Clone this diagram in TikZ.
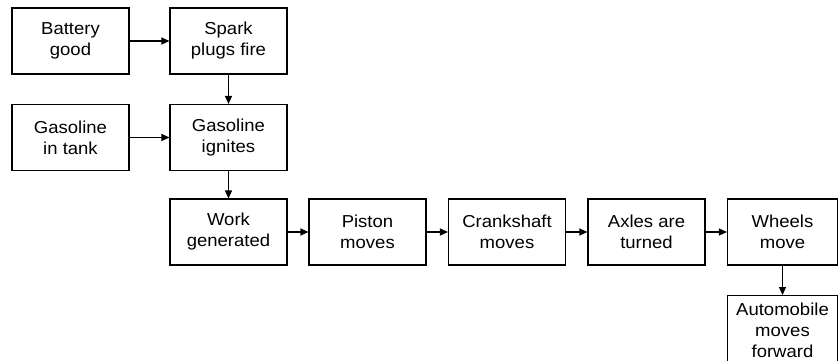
\documentclass[tikz,border=0pt]{standalone}
\usepackage{fontspec}
\setmainfont[FakeStretch=1.07]{Liberation Sans}
\usetikzlibrary{arrows.meta}
\begin{document}
\begin{tikzpicture}[x=1pt,y=-1pt,
  box/.style={draw, line width=1.1pt, minimum width=117pt, minimum height=66pt,
    inner sep=0pt, align=center, font=\fontsize{17.3}{21}\selectfont},
  conn/.style={line width=1.1pt, -{Triangle[length=8pt,width=7pt]}}]
\useasboundingbox (0,0) rectangle (838,360);
\clip (0,0) rectangle (838,360);
\node[box] (battery) at (70.5,41) {Battery\\good};
\node[box] (spark) at (228.5,41) {Spark\\plugs fire};
\node[box] (tank) at (70.5,137.5) {Gasoline\\in tank};
\node[box] (ignites) at (228.5,137.5) {Gasoline\\ignites};
\node[box] (work) at (228.5,232) {Work\\generated};
\node[box] (piston) at (367.5,232) {Piston\\moves};
\node[box] (crank) at (507,232) {Crankshaft\\moves};
\node[box] (axles) at (646.5,232) {Axles are\\turned};
\node[box, minimum width=110pt] (wheels) at (782.5,232) {Wheels\\move};
\node[box, minimum width=110pt, minimum height=70pt, anchor=north] (auto) at (782.5,295) {Automobile\\moves\\forward};
\draw[conn] (battery) -- (spark);
\draw[conn] (tank) -- (ignites);
\draw[conn] (spark) -- (ignites);
\draw[conn] (ignites) -- (work);
\draw[conn] (work) -- (piston);
\draw[conn] (piston) -- (crank);
\draw[conn] (crank) -- (axles);
\draw[conn] (axles) -- (wheels);
\draw[conn] (wheels) -- (auto);
\end{tikzpicture}
\end{document}
